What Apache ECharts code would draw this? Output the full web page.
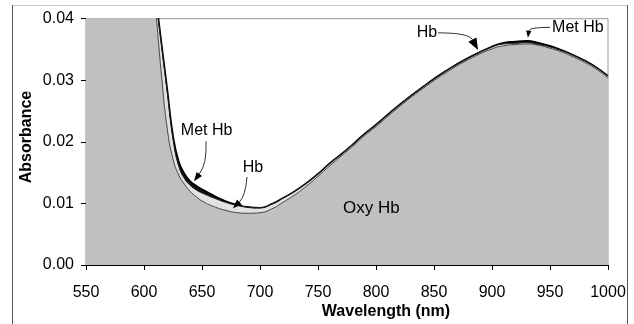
<!DOCTYPE html>
<html><head><meta charset="utf-8">
<script src="https://cdn.jsdelivr.net/npm/echarts@6/dist/echarts.min.js"></script>
<style>html,body{margin:0;padding:0;background:#fff}#c{width:634px;height:324px}</style>
</head><body><div id="c"></div>
<script>
// Wavelength (nm)
const wavelengths = [550,580,600,605,610,615,620,625,630,635,640,645,650,660,670,680,690,700,710,720,730,740,750,760,770,780,790,800,820,840,860,880,900,910,920,930,940,950,960,970,980,990,1000];
// Absorbance
const metHb = [0.10,0.08,0.0620,0.0525,0.0440,0.0362,0.0287,0.0211,0.0168,0.0148,0.0136,0.0129,0.0123,0.0113,0.0104,0.0098,0.0094,0.0093,0.0099,0.0109,0.0120,0.0133,0.0148,0.0165,0.0180,0.0196,0.0213,0.0228,0.0260,0.0289,0.0315,0.0337,0.0355,0.0361,0.0363,0.0364,0.0361,0.0356,0.0349,0.0341,0.0332,0.0321,0.0307];
const hb    = [0.10,0.08,0.0615,0.0520,0.0435,0.0357,0.0281,0.0204,0.0160,0.0140,0.0129,0.0122,0.0117,0.0109,0.0102,0.0097,0.0094,0.0093,0.0099,0.0109,0.0120,0.0133,0.0148,0.0165,0.0180,0.0196,0.0213,0.0228,0.0260,0.0289,0.0315,0.0337,0.0354,0.0359,0.0360,0.0361,0.0358,0.0354,0.0348,0.0341,0.0332,0.0321,0.0307];
const oxyHb = [0.10,0.08,0.0600,0.0505,0.0415,0.0310,0.0222,0.0172,0.0146,0.0131,0.0119,0.0111,0.0104,0.0095,0.0089,0.0085,0.0084,0.0085,0.0091,0.0102,0.0114,0.0128,0.0144,0.0161,0.0177,0.0193,0.0210,0.0225,0.0257,0.0286,0.0312,0.0334,0.0351,0.0356,0.0358,0.0359,0.0357,0.0352,0.0346,0.0338,0.0329,0.0318,0.0304];
// tick labels
const xTicks = [550,600,650,700,750,800,850,900,950,1000];
const yTicks = ['0.00','0.01','0.02','0.03','0.04'];
// annotations in data coordinates [nm, absorbance]
const labelTexts = ['Met Hb','Hb','Hb','Met Hb','Oxy Hb'];
const labelAt = [[654,0.0218],[694,0.0159],[844,0.0377],[974,0.0385],[796,0.0092]];
const arrowStart = [[653.4,0.0201],[688.8,0.0143],[853.4,0.0377],[950,0.0386]];
const arrowCtrl  = [[654.5,0.0165],[687.5,0.0112],[880,0.0377],[932,0.0386]];
const arrowTip   = [[643.1,0.0136],[676.7,0.0092],[888,0.0349],[931,0.0369]];
const arrowHead  = [9,9,12,7];

const FONT = 'Liberation Sans';
const pts = a => wavelengths.map((w,i)=>[w,a[i]]);
const chart = echarts.init(document.getElementById('c'), null, {renderer:'canvas'});
function areaSeries(name, data, fill, line, lw){
  return {name, type:'line', data:pts(data), smooth:0.5, showSymbol:false, symbol:'none',
    clip:true, lineStyle:{color:line, width:lw}, areaStyle:{color:fill, opacity:1}, animation:false, silent:true};
}
chart.setOption({
  animation:false,
  backgroundColor:'#fff',
  grid:{left:86, right:26, top:18.7, bottom:59, show:true, borderColor:'#999', borderWidth:1, backgroundColor:'transparent'},
  xAxis:{type:'value', min:550, max:1000, interval:50,
    axisLine:{show:true, onZero:false, lineStyle:{color:'#000', width:1}},
    axisTick:{show:true, inside:false, length:5, lineStyle:{color:'#000'}},
    axisLabel:{color:'#000', fontSize:16, fontFamily:FONT, margin:20,
      formatter:v=> xTicks.includes(v) ? String(v) : ''},
    splitLine:{show:false}},
  yAxis:{type:'value', min:0, max:0.04, interval:0.01,
    axisLine:{show:true, lineStyle:{color:'#000', width:1}},
    axisTick:{show:true, inside:false, length:5, lineStyle:{color:'#000'}},
    axisLabel:{color:'#000', fontSize:16, fontFamily:FONT, margin:12,
      formatter:v=> yTicks[Math.round(v*100)]},
    splitLine:{show:false}},
  series:[
    areaSeries('Met Hb', metHb, '#111', '#000', 1.6),
    areaSeries('Hb', hb, '#e2e2e2', '#222', 1),
    areaSeries('Oxy Hb', oxyHb, '#c0c0c0', '#444', 1)
  ]
});

const P = d => chart.convertToPixel({gridIndex:0}, d);
const g = [];
// outer frame
g.push({type:'line', shape:{x1:12,y1:5.5,x2:628,y2:5.5}, style:{stroke:'#c8c8c8', lineWidth:1}, silent:true});
g.push({type:'line', shape:{x1:12.5,y1:5,x2:12.5,y2:330}, style:{stroke:'#555', lineWidth:1}, silent:true});
g.push({type:'line', shape:{x1:627.5,y1:5,x2:627.5,y2:330}, style:{stroke:'#555', lineWidth:1}, silent:true});
// axis titles
g.push({type:'text', x:386, y:312, style:{text:'Wavelength (nm)', font:'bold 16px "'+FONT+'"', fill:'#000', align:'center', verticalAlign:'middle'}, silent:true});
g.push({type:'text', x:27, y:137, rotation:Math.PI/2, style:{text:'Absorbance', font:'bold 16px "'+FONT+'"', fill:'#000', align:'center', verticalAlign:'middle'}, silent:true});
// labels
labelTexts.forEach((t,i)=>{
  const p = P(labelAt[i]);
  g.push({type:'text', x:p[0], y:p[1], z:100, style:{text:t, font:(t==='Oxy Hb'?'17px':'16px')+' "'+FONT+'"', fill:'#000', align:'center', verticalAlign:'middle'}, silent:true});
});
// arrows
arrowStart.forEach((s,i)=>{
  const a = P(s), c = P(arrowCtrl[i]), t = P(arrowTip[i]);
  const L = arrowHead[i], W = L*0.38;
  let dx = t[0]-c[0], dy = t[1]-c[1]; const n = Math.hypot(dx,dy); dx/=n; dy/=n;
  const bx = t[0]-dx*L, by = t[1]-dy*L;
  g.push({type:'bezierCurve', z:100, shape:{x1:a[0],y1:a[1],x2:bx,y2:by,cpx1:c[0],cpy1:c[1]}, style:{stroke:'#333', lineWidth:1, fill:null}, silent:true});
  g.push({type:'polygon', z:100, shape:{points:[[t[0],t[1]],[bx-dy*W,by+dx*W],[bx+dy*W,by-dx*W]]}, style:{fill:'#000'}, silent:true});
});
chart.setOption({graphic:g});
</script>
</body></html>
